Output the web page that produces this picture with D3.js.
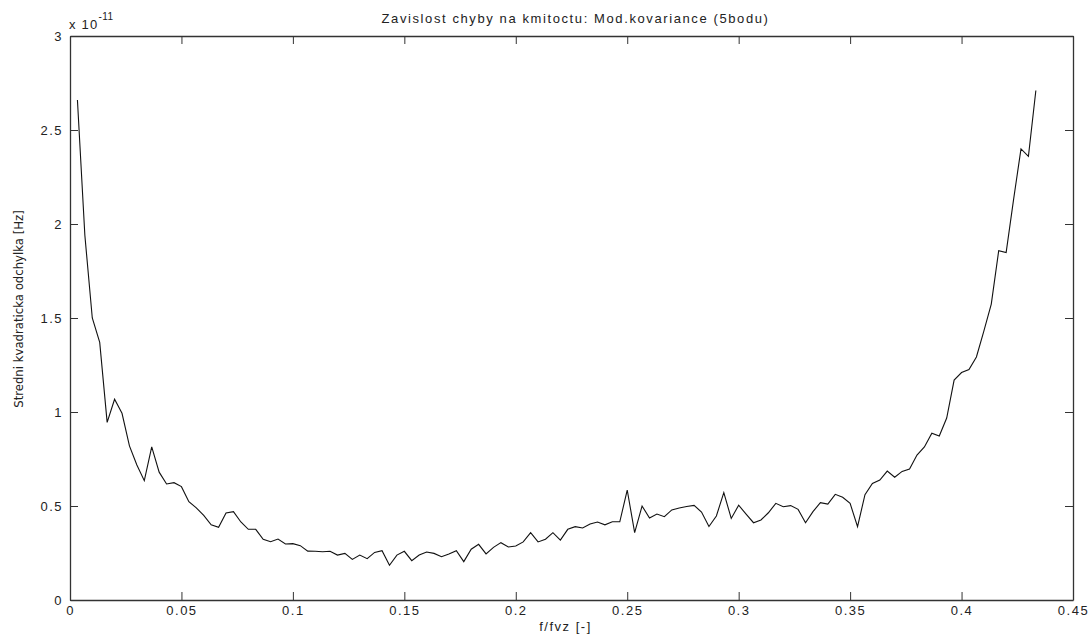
<!DOCTYPE html>
<html>
<head>
<meta charset="utf-8">
<script src="https://cdn.jsdelivr.net/npm/d3@7"></script>
<style>
  html, body { margin: 0; padding: 0; background: #fff; }
  svg { display: block; }
  text { fill: #222; font-family: "Liberation Sans", Arial, sans-serif; }
</style>
</head>
<body>
<svg id="chart" width="1092" height="634"></svg>
<script>
// ---- data ----
const titleText = "Zavislost chyby na kmitoctu: Mod.kovariance (5bodu)";
const xLabelText = "f/fvz [-]";
const yLabelText = "Stredni kvadraticka odchylka [Hz]";
const exponentBase = "x 10";
const exponentPower = "-11";

const xTicks = [0, 0.05, 0.1, 0.15, 0.2, 0.25, 0.3, 0.35, 0.4, 0.45];
const xTickLabels = ["0", "0.05", "0.1", "0.15", "0.2", "0.25", "0.3", "0.35", "0.4", "0.45"];
const yTicks = [0, 0.5, 1, 1.5, 2, 2.5, 3];
const yTickLabels = ["0", "0.5", "1", "1.5", "2", "2.5", "3"];

// relative frequency f/fvz (k/300, k = 1..130)
const freqIndex = d3.range(1, 131);
const freq = freqIndex.map(k => k / 300);

// RMS error in units of 1e-11 Hz
const errorValues = [
  2.66, 1.94, 1.50, 1.37, 0.945, 1.068, 0.993, 0.82, 0.718, 0.635,
  0.815, 0.68, 0.617, 0.624, 0.603, 0.523, 0.49, 0.45, 0.40, 0.387,
  0.463, 0.47, 0.415, 0.376, 0.376, 0.323, 0.31, 0.324, 0.298, 0.30,
  0.289, 0.26, 0.259, 0.257, 0.259, 0.239, 0.248, 0.216, 0.239, 0.22,
  0.253, 0.262, 0.185, 0.239, 0.259, 0.209, 0.239, 0.255, 0.248, 0.23,
  0.245, 0.262, 0.204, 0.27, 0.296, 0.245, 0.28, 0.305, 0.282, 0.287,
  0.309, 0.358, 0.309, 0.323, 0.358, 0.319, 0.376, 0.39, 0.383, 0.404,
  0.415, 0.40, 0.416, 0.416, 0.585, 0.358, 0.50, 0.436, 0.457, 0.443,
  0.479, 0.489, 0.497, 0.503, 0.468, 0.391, 0.447, 0.571, 0.434, 0.504,
  0.457, 0.411, 0.426, 0.464, 0.514, 0.496, 0.502, 0.482, 0.411, 0.47,
  0.518, 0.51, 0.562, 0.546, 0.514, 0.39, 0.56, 0.62, 0.638, 0.686,
  0.653, 0.684, 0.697, 0.771, 0.814, 0.887, 0.872, 0.968, 1.17, 1.21,
  1.226, 1.293, 1.43, 1.574, 1.858, 1.848, 2.13, 2.40, 2.36, 2.71
];

// ---- chart ----
const svg = d3.select("#chart");
const mLeft = 70, mRight = 1073, mTop = 36, mBottom = 600;

const x = d3.scaleLinear().domain([0, 0.45]).range([mLeft, mRight]);
const y = d3.scaleLinear().domain([0, 3]).range([mBottom, mTop]);

const axisColor = "#333";
const tickLen = 8;

function styleAxis(g) {
  g.selectAll(".domain").attr("stroke", axisColor).attr("stroke-width", 1.3);
  g.selectAll(".tick line").attr("stroke", axisColor).attr("stroke-width", 1);
}

// bottom axis (ticks inside, with labels)
const gxb = svg.append("g").attr("transform", `translate(0,${mBottom})`)
  .call(d3.axisBottom(x).tickValues(xTicks).tickSize(-tickLen).tickSizeOuter(0)
    .tickFormat((d, i) => xTickLabels[i]));
styleAxis(gxb);
gxb.selectAll(".tick text")
  .attr("y", 6).attr("dy", "0.71em")
  .style("font-size", "13px").style("letter-spacing", "1.5px")
  .attr("fill", "#222");

// top axis (ticks only)
const gxt = svg.append("g").attr("transform", `translate(0,${mTop})`)
  .call(d3.axisTop(x).tickValues(xTicks).tickSize(-tickLen).tickSizeOuter(0).tickFormat(""));
styleAxis(gxt);

// left axis (ticks inside, with labels)
const gyl = svg.append("g").attr("transform", `translate(${mLeft},0)`)
  .call(d3.axisLeft(y).tickValues(yTicks).tickSize(-tickLen).tickSizeOuter(0)
    .tickFormat((d, i) => yTickLabels[i]));
styleAxis(gyl);
gyl.selectAll(".tick text")
  .attr("x", -7)
  .style("font-size", "13px").style("letter-spacing", "1.5px")
  .attr("fill", "#222");

// right axis (ticks only)
const gyr = svg.append("g").attr("transform", `translate(${mRight},0)`)
  .call(d3.axisRight(y).tickValues(yTicks).tickSize(-tickLen).tickSizeOuter(0).tickFormat(""));
styleAxis(gyr);

// data line
const pts = freq.map((f, i) => [f, errorValues[i]]);
svg.append("path")
  .datum(pts)
  .attr("fill", "none")
  .attr("stroke", "#111")
  .attr("stroke-width", 1.1)
  .attr("stroke-linejoin", "miter")
  .attr("d", d3.line().x(d => x(d[0])).y(d => y(d[1])));

// title
svg.append("text")
  .attr("x", (mLeft + mRight) / 2 + 4).attr("y", 23)
  .attr("text-anchor", "middle")
  .style("font-size", "13px").style("letter-spacing", "1.6px")
  .text(titleText);

// x label
svg.append("text")
  .attr("x", (mLeft + mRight) / 2 - 6).attr("y", 631)
  .attr("text-anchor", "middle")
  .style("font-size", "13px").style("letter-spacing", "1.5px")
  .text(xLabelText);

// y label
svg.append("text")
  .attr("transform", `translate(23,${(mTop + mBottom) / 2 - 9}) rotate(-90)`)
  .attr("text-anchor", "middle")
  .style("font-family", "'Liberation Sans Narrow', 'DejaVu Sans Condensed', sans-serif")
  .style("font-size", "13px")
  .text(yLabelText);

// exponent
const ex = svg.append("text").attr("x", 69).attr("y", 29)
  .style("font-size", "13px").style("letter-spacing", "1.2px");
ex.append("tspan").text(exponentBase);
ex.append("tspan").attr("dy", -9).style("font-size", "10px").style("letter-spacing", "0.5px").text(exponentPower);
</script>
</body>
</html>
